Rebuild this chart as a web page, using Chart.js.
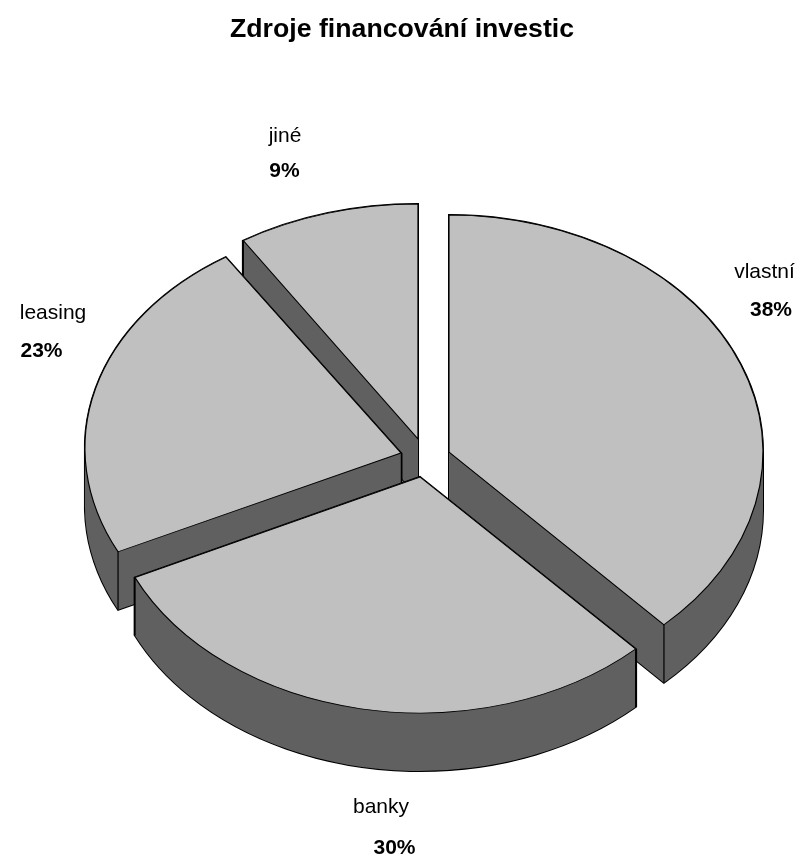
<!DOCTYPE html>
<html><head><meta charset="utf-8">
<style>html,body{margin:0;padding:0;background:#fff}canvas{display:block}</style>
<script src="https://cdn.jsdelivr.net/npm/chart.js@4"></script>
</head><body><canvas id="c" width="801" height="859"></canvas>
<script>
const categories = ['vlastní', 'banky', 'leasing', 'jiné'];
const values = [38, 30, 23, 9];
const titleText = 'Zdroje financování investic';

// styling / layout
const TOP = '#C0C0C0', SIDE = '#606060', LINE = '#000000';
const FONT = '"Liberation Sans", Arial, sans-serif';
const R = 316, DEPTH = 58;
const CENTER = [425, 458];
const EXPLODE = [[24, -6], [-5, 19], [-24, -5], [-7, -19]];
const RX = [314, 315, 316, 326];
const RY = [237, 236, 232, 235];
const SHEAR = [0, 0, 0.03, 0];
const PAINT_ORDER = [3, 2, 0, 1];
const LABEL_AT = [[764.5, 272, 771, 310], [381, 807, 394.5, 848], [53, 313, 41.5, 351], [285, 136, 284.5, 171]];

function style(bg, border, width) {
  return {backgroundColor: bg, borderColor: border, borderWidth: width, borderAlign: 'center',
    borderJoinStyle: 'miter', borderRadius: 0, offset: 0, spacing: 0, circular: true, borderDash: [], borderDashOffset: 0};
}
function matrix(arc, i, dy) {
  const sx = RX[i] / R, ky = RY[i] / R, sh = SHEAR[i] * ky;
  const ox = CENTER[0] + EXPLODE[i][0], oy = CENTER[1] + EXPLODE[i][1] + dy;
  return [sx, 0, sh, ky, ox - sx * arc.x - sh * arc.y, oy - ky * arc.y];
}
function paint(ctx, arc, opts, area) {
  const keep = arc.options;
  arc.options = opts;
  arc.draw(ctx, area);
  arc.options = keep;
}
// one path holding the swept sector, so the wall is filled exactly once
function wallPath(ctx, arc, i) {
  ctx.beginPath();
  for (let d = DEPTH; d >= 0; d -= 0.5) {
    ctx.setTransform(...matrix(arc, i, d));
    ctx.moveTo(arc.x, arc.y);
    ctx.arc(arc.x, arc.y, arc.outerRadius, arc.startAngle, arc.endAngle);
    ctx.closePath();
  }
  ctx.setTransform(1, 0, 0, 1, 0, 0);
}
const pie3d = {
  id: 'pie3d',
  beforeDatasetsDraw(chart) {
    const ctx = chart.ctx, arcs = chart.getDatasetMeta(0).data, area = chart.chartArea;
    ctx.save();
    for (const i of PAINT_ORDER) {
      const arc = arcs[i];
      wallPath(ctx, arc, i);
      ctx.strokeStyle = LINE; ctx.lineWidth = 2; ctx.lineJoin = 'miter';
      ctx.stroke();
      ctx.fillStyle = SIDE;
      ctx.fill('nonzero');
      // vertical edges at the rim corners
      const m = matrix(arc, i, 0);
      for (const a of [arc.startAngle, arc.endAngle]) {
        const lx = arc.x + R * Math.cos(a), ly = arc.y + R * Math.sin(a);
        const px = m[0] * lx + m[2] * ly + m[4], py = m[1] * lx + m[3] * ly + m[5];
        ctx.strokeStyle = LINE; ctx.lineWidth = 1.2;
        ctx.beginPath(); ctx.moveTo(px, py); ctx.lineTo(px, py + DEPTH); ctx.stroke();
      }
      ctx.setTransform(...m);
      paint(ctx, arc, style(TOP, LINE, 1.2), area);
      ctx.setTransform(1, 0, 0, 1, 0, 0);
    }
    ctx.restore();
    return false;
  },
  afterDraw(chart) {
    const ctx = chart.ctx;
    ctx.save();
    ctx.fillStyle = LINE; ctx.textAlign = 'center'; ctx.textBaseline = 'middle';
    categories.forEach((name, i) => {
      const p = LABEL_AT[i];
      ctx.font = '21px ' + FONT;
      ctx.fillText(name, p[0], p[1]);
      ctx.font = 'bold 21px ' + FONT;
      ctx.fillText(values[i] + '%', p[2], p[3]);
    });
    ctx.restore();
  }
};
new Chart(document.getElementById('c'), {
  type: 'pie',
  data: {labels: categories, datasets: [{data: values, backgroundColor: TOP, borderColor: LINE, borderWidth: 1}]},
  options: {
    responsive: false, animation: false, events: [], radius: R,
    layout: {padding: {left: 3}},
    plugins: {
      legend: {display: false}, tooltip: {enabled: false},
      title: {display: true, text: titleText, color: LINE, align: 'center',
        font: {family: FONT, size: 26.7, weight: 'bold'}, padding: {top: 14, bottom: 10}}
    }
  },
  plugins: [pie3d]
});
</script></body></html>
